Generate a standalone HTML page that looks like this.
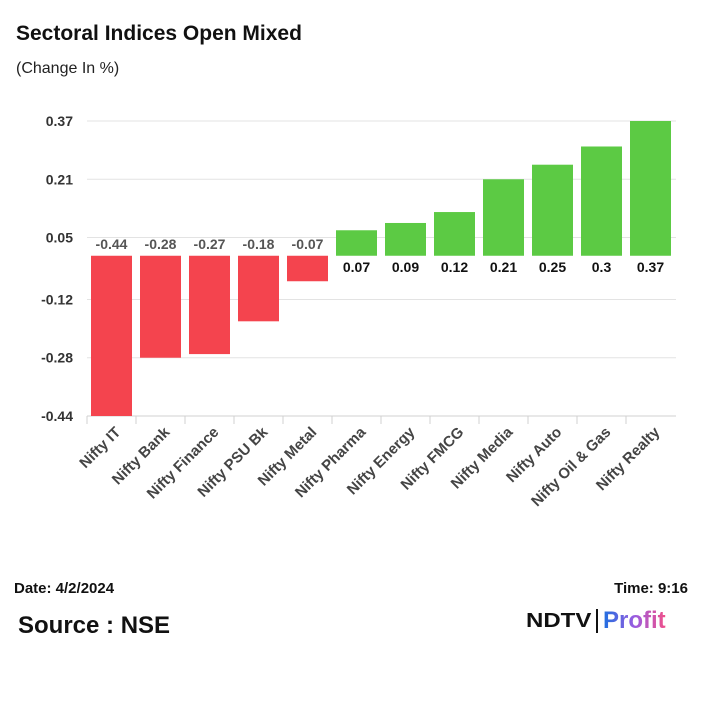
<!DOCTYPE html>
<html><head><meta charset="utf-8"><style>
body{margin:0;background:#fff;font-family:"Liberation Sans",sans-serif;}
#wrap{position:relative;width:701px;height:701px;overflow:hidden;}
</style></head><body>
<div id="wrap">
<div style="position:absolute;left:16px;top:22px;font-size:21px;font-weight:bold;color:#111;">Sectoral Indices Open Mixed</div>
<div style="position:absolute;left:16px;top:60px;font-size:16px;color:#222;">(Change In %)</div>
<svg id="chart" width="701" height="701" style="position:absolute;left:0;top:0"></svg>
<div style="position:absolute;left:14px;top:580px;font-size:15px;font-weight:bold;color:#111;">Date: 4/2/2024</div>
<div style="position:absolute;right:13px;top:580px;font-size:15px;font-weight:bold;color:#111;">Time: 9:16</div>
<div style="position:absolute;left:18px;top:612px;font-size:24px;font-weight:bold;color:#111;">Source : NSE</div>
<div style="position:absolute;left:526px;top:606px;height:30px;display:flex;align-items:center;">
<span style="font-size:20px;font-weight:900;color:#111;letter-spacing:0px;font-family:'Liberation Sans',sans-serif;transform:scaleX(1.2);transform-origin:left;display:inline-block;width:70px;">NDTV</span>
<span style="display:inline-block;width:2px;height:24px;background:#111;margin:0 5px 0 0;"></span>
<span style="font-size:24px;font-weight:bold;background:linear-gradient(90deg,#1e6fe0,#9a5ce0,#f0508a);-webkit-background-clip:text;background-clip:text;color:transparent;">Profit</span>
</div>
</div>
<script>
const categories=["Nifty IT","Nifty Bank","Nifty Finance","Nifty PSU Bk","Nifty Metal","Nifty Pharma","Nifty Energy","Nifty FMCG","Nifty Media","Nifty Auto","Nifty Oil & Gas","Nifty Realty"];
const values=[-0.44,-0.28,-0.27,-0.18,-0.07,0.07,0.09,0.12,0.21,0.25,0.3,0.37];
const ticks=[0.37,0.21,0.05,-0.12,-0.28,-0.44];
const NS="http://www.w3.org/2000/svg";
const svg=document.getElementById('chart');
const x0=87,band=49,yMin=-0.44,yMax=0.37,pTop=121,pBot=416;
function y(v){return pBot-(v-yMin)/(yMax-yMin)*(pBot-pTop);}
function xb(i){return x0+i*band;}
function mk(t,a){const e=document.createElementNS(NS,t);for(const k in a)e.setAttribute(k,a[k]);svg.appendChild(e);return e;}
ticks.forEach(t=>{
 const g=mk('line',{x1:x0,x2:676,y1:y(t),y2:y(t),stroke:'#e3e3e3','stroke-width':1});
 
 
 const l=mk('text',{x:73,y:y(t)+5,'text-anchor':'end','font-size':14,'font-weight':'bold',fill:'#333','font-family':'Liberation Sans,sans-serif'});
 l.textContent=t;
 
 
});
const ax=mk('line',{x1:x0,x2:676,y1:pBot,y2:pBot,stroke:'#d0d0d0','stroke-width':1});


categories.forEach((c,i)=>{
 const tk=mk('line',{x1:xb(i),x2:xb(i),y1:pBot,y2:pBot+8,stroke:'#d0d0d0'});
 
 
 const v=values[i];
 const bx=xb(i)+4,bw=41;
 const yt=Math.min(y(v),y(0)),h=Math.abs(y(v)-y(0));
 const r=mk('rect',{x:bx,y:yt,width:bw,height:h,fill:v<0?'#f4444e':'#5cca44'});
 
 
 const vl=mk('text',{x:bx+bw/2,y:v<0?y(0)-7:y(0)+16,'text-anchor':'middle','font-size':14,'font-weight':'bold',fill:v<0?'#555':'#111','font-family':'Liberation Sans,sans-serif'});
 vl.textContent=v;
 
 
 const cx=xb(i)+band/2+10,cy=pBot+17;
 const xl=mk('text',{x:cx,y:cy,'text-anchor':'end','font-size':15,'font-weight':'bold',fill:'#444','font-family':'Liberation Sans,sans-serif',transform:'rotate(-45 '+cx+' '+cy+')'});
 xl.textContent=c;
 
 
});
</script>
</body></html>
